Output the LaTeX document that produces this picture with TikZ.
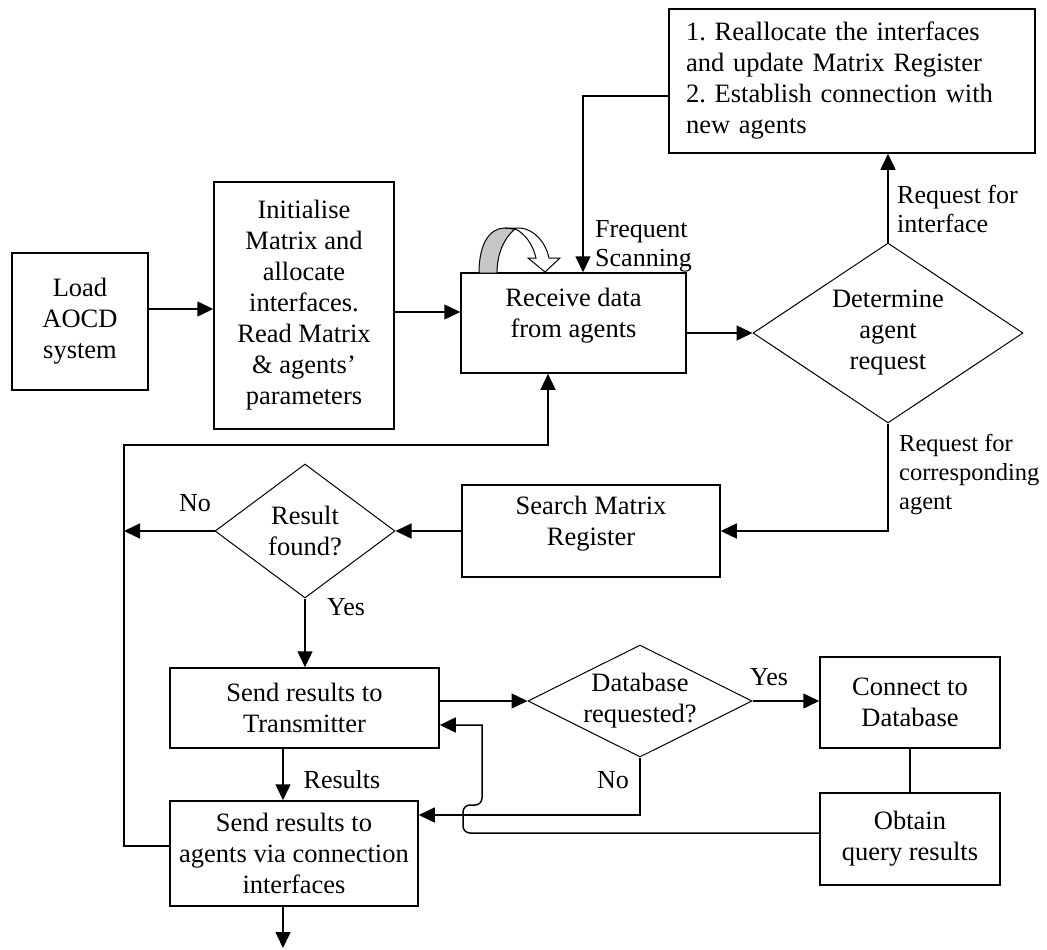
\documentclass[tikz,border=0pt]{standalone}
\usepackage{fontspec}
\setmainfont{Liberation Serif}
\usetikzlibrary{shapes.geometric,arrows.meta}
\begin{document}
\frenchspacing
\begin{tikzpicture}[x=1pt,y=-1pt,
  every node/.style={font=\fontsize{26.5}{31}\selectfont},
  box/.style={draw, line width=1.5pt, align=center, inner sep=0pt},
  decision/.style={draw, diamond, line width=1pt, align=center, inner sep=0pt},
  lbl/.style={align=left, inner sep=0pt, font=\fontsize{26}{29}\selectfont},
  link/.style={line width=1.5pt},
  arr/.style={link, -{Triangle[length=16pt,width=15pt]}},
]
\useasboundingbox (0,0) rectangle (1047,950);

% process boxes
\node[box, minimum width=136, minimum height=137] (load) at (80,321.5) {Load\\AOCD\\system};
\node[box, minimum width=180, minimum height=247] (init) at (304,305.5)
  {Initialise\\Matrix and\\allocate\\interfaces.\\Read Matrix\\\& agents’\\parameters};
\node[box, minimum width=225, minimum height=100] (recv) at (573.5,323) {Receive data\\from agents\\[-10pt]\mbox{}};
\node[box, minimum width=366, minimum height=144, align=left, text width=332] (realloc) at (852,81)
  {1. Reallocate the interfaces\\and update Matrix Register\\2. Establish connection with\\new agents};
\node[box, minimum width=258, minimum height=92] (search) at (591,531) {Search Matrix\\Register\\[-10pt]\mbox{}};
\node[box, minimum width=269, minimum height=80] (trans) at (304.5,708) {Send results to\\Transmitter};
\node[box, minimum width=180, minimum height=91] (conn) at (910,702.5) {Connect to\\Database};
\node[box, minimum width=180, minimum height=92] (obt) at (910,839) {Obtain\\query results};
\node[box, minimum width=248, minimum height=105] (agt) at (294,853.5) {Send results to\\agents via connection\\interfaces};

% decisions
\node[decision, minimum width=270, minimum height=180, aspect=1.5] (det) at (888,333) {Determine\\agent\\request};
\node[decision, minimum width=180, minimum height=134, aspect=1.34] (res) at (305,531) {Result\\found?};
\node[decision, minimum width=224, minimum height=112, aspect=2] (dbq) at (640,701) {Database\\requested?};

% scanning loop symbol on top of the receive box
\filldraw[fill=black!22, draw=black, line width=1pt]
  (479,273) .. controls (479,243) and (490,228) .. (505,228) -- (515,229)
  .. controls (504,238) and (497,254) .. (497,273) -- cycle;
\filldraw[fill=white, draw=black, line width=1pt]
  (505,228) -- (521,228) .. controls (535,230) and (546,243) .. (549,258)
  -- (560,258) -- (545,272) -- (528,258) -- (536,258)
  .. controls (533,245) and (525,233) .. (515,229) -- cycle;

% connectors
\coordinate (busTop) at (124,445);
\coordinate (busBot) at (124,846);
\coordinate (exit) at (283,948);
\draw[arr] (load.east |- 0,309) -- (init.west |- 0,309);
\draw[arr] (init.east |- 0,312) -- (recv.west |- 0,312);
\draw[arr] (recv.east |- det.west) -- (det.west);
\draw[arr] (det.north) -- (det.north |- realloc.south);
\draw[arr] (realloc.west |- 0,96) -| ([xshift=9.5pt]recv.north);
\draw[arr] (det.south) |- (search.east);
\draw[arr] (search.west) -- (res.east);
\draw[arr] (res.west) -- (res.west -| busTop);
\draw[arr] (agt.west |- busBot) -- (busBot) -- (busTop) -| ([xshift=-25.5pt]recv.south);
\draw[arr] (res.south) -- (res.south |- trans.north);
\draw[arr] ([xshift=-21.5pt]trans.south) -- ([xshift=-21.5pt]trans.south |- agt.north);
\draw[arr] (agt.south -| exit) -- (exit);
\draw[arr] (trans.east |- dbq.west) -- (dbq.west);
\draw[arr] (dbq.east) -- (dbq.east -| conn.west);
\draw[link] (conn.south) -- (obt.north);
\draw[arr] (dbq.south) |- (agt.east |- 0,815);
\draw[arr] (obt.west |- 0,833) [rounded corners=7pt] -- (463,833) -- (463,805) -- (482,805)
  [sharp corners] -- (482,725) -- (trans.east |- 0,725);

% connector labels
\node[lbl, anchor=west] (lReqIf) at (897,209) {Request for\\interface};
\node[lbl, anchor=west] (lScan) at (595,246) {Frequent\\Scanning};
\node[lbl, anchor=west, font=\fontsize{24.5}{29}\selectfont] (lReqAg) at (899,475) {Request for\\corresponding\\agent};
\node[lbl] (lNo1) at (195,503) {No};
\node[lbl] (lYes1) at (346,607) {Yes};
\node[lbl] (lRes) at (342,780) {Results};
\node[lbl] (lYes2) at (769,677) {Yes};
\node[lbl] (lNo2) at (613,780) {No};
\end{tikzpicture}
\end{document}
